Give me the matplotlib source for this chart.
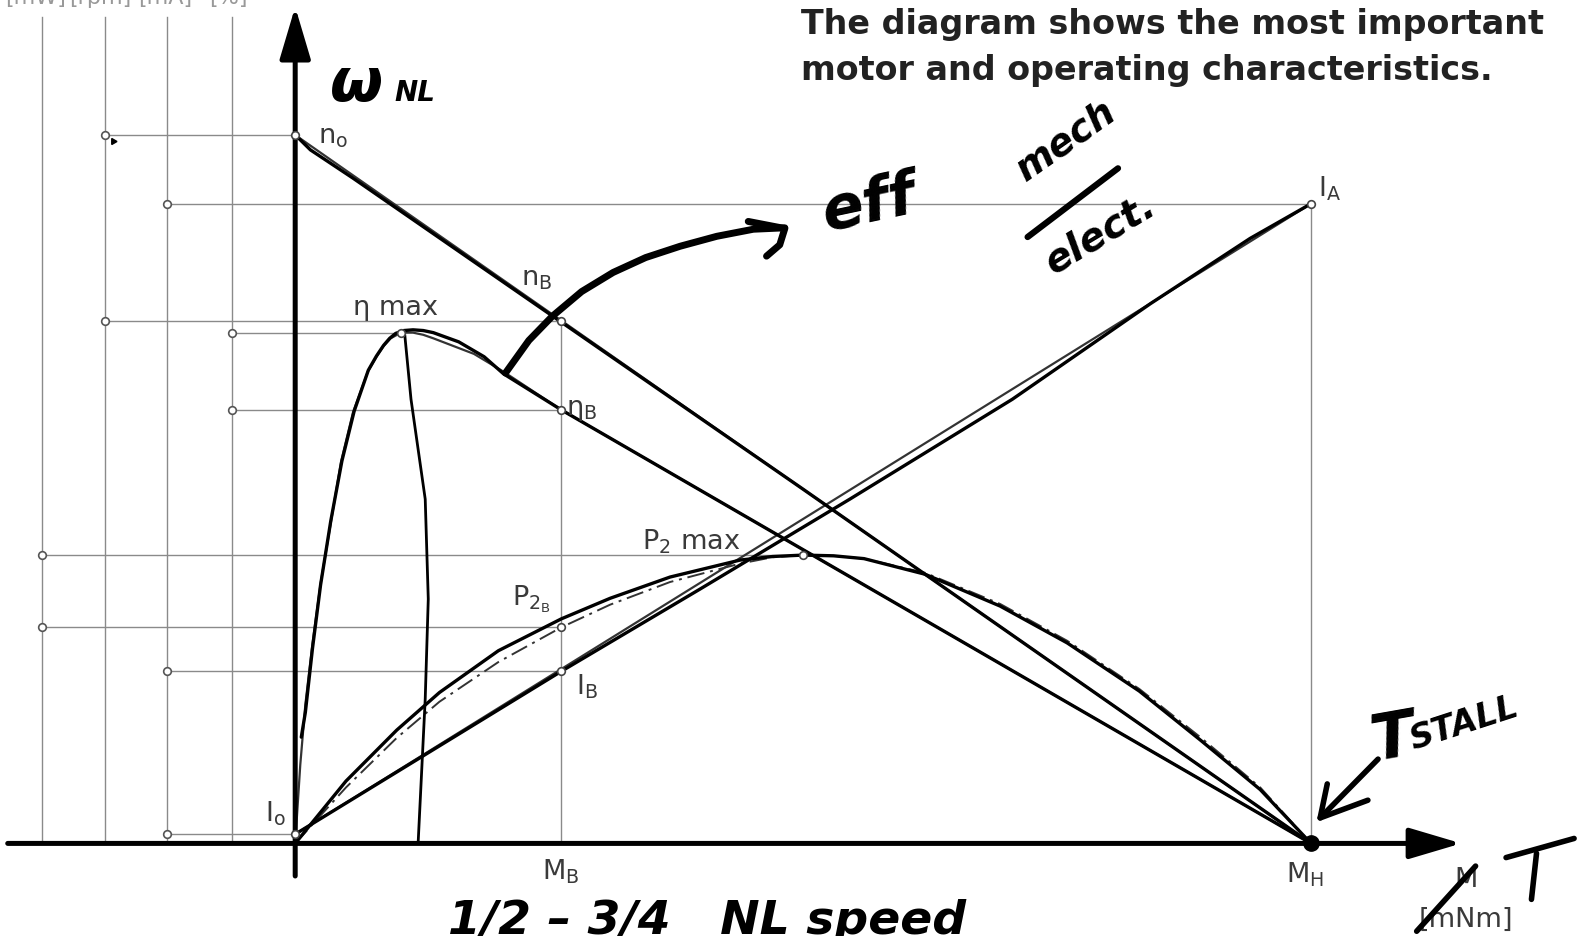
import numpy as np
import matplotlib.pyplot as plt

# motor characteristic diagram
# torque axis scaled so stall torque M_H = 100, curves scaled so that n_o = 100
M_B = 26.2
M_H = 100.0

speed_M = [0.0, M_H]
speed_n = [100.0, 0.0]

current_M = [0.0, M_H]
current_I = [1.3, 90.3]

eff_M = [0.0, 0.5, 1.0, 1.7, 2.5, 3.5, 4.5, 5.7, 7.15, 8.0, 8.7, 9.4, 10.4, 11.6, 12.6, 13.6, 17.6, 20.5, 26.2, 100.0]
eff_eta = [0.0, 11.1, 19.6, 28.2, 36.7, 45.2, 53.8, 60.9, 66.6, 68.7, 70.2, 71.3, 72.1, 72.1, 71.8, 71.3, 69.1, 66.6, 61.2, 0.0]

power_M = [0, 5, 10, 14.2, 20, 26.2, 31, 36.9, 43.8, 47, 50, 53, 56, 62, 69.4, 76, 83.1, 89.1, 95, 100]
power_P = [0, 7.9, 14.9, 20.0, 25.6, 30.5, 33.7, 36.9, 39.5, 40.4, 40.7, 40.6, 40.2, 38.2, 33.8, 28.6, 21.8, 15.0, 7.9, 0]

# pen traces drawn over the printed curves
pen_speed_M = [0.3, 1.5, 5.7, 50.0, 100.0]
pen_speed_n = [99.6, 97.9, 93.9, 50.0, 0.0]
pen_current_M = [0.0, 26.2, 39.85, 54.6, 70.6, 84.2, 94.0, 100.0]
pen_current_I = [1.3, 24.3, 35.9, 48.6, 62.7, 76.2, 85.4, 90.3]
pen_eff_M = [0.6, 1.0, 1.7, 2.5, 3.5, 4.6, 5.8, 7.2, 8.0, 8.7, 9.3, 9.9, 10.7, 11.6, 12.6, 13.6, 16.1, 18.6, 20.5, 26.2, 100.0]
pen_eff = [15.0, 18.5, 27.5, 36.5, 45.5, 54.0, 61.0, 66.8, 68.8, 70.3, 71.3, 72.0, 72.4, 72.5, 72.4, 72.1, 70.8, 68.7, 66.3, 61.2, 0.0]
pen_power_M = [0, 5, 10, 14.2, 20, 26.2, 31, 36.9, 43.8, 47, 50, 53, 56, 62, 69.4, 76, 83.1, 89.1, 95, 100]
pen_power_P = [0, 8.8, 16.0, 21.3, 27.2, 31.7, 34.6, 37.6, 40.0, 40.5, 40.7, 40.6, 40.2, 38.0, 33.5, 28.3, 21.5, 14.6, 7.6, 0]
pen_drop_M = [10.8, 11.4, 12.8, 13.1, 12.8, 12.1]
pen_drop_y = [71.6, 62.7, 48.6, 34.5, 20.4, 0.0]
pen_arrow_M = [20.7, 23.0, 25.3, 28.2, 31.3, 34.5, 37.9, 41.5, 45.1, 48.2]
pen_arrow_y = [66.4, 71.0, 74.4, 77.9, 80.6, 82.7, 84.3, 85.7, 86.7, 86.9]

# key operating points: (label column, torque, value)
points = {
    'n0':   ('n', 0.0, 100.0),
    'IA':   ('I', M_H, 90.3),
    'nB':   ('n', M_B, 73.8),
    'etam': ('eta', 10.4, 72.1),
    'etaB': ('eta', M_B, 61.2),
    'P2m':  ('P', 50.0, 40.7),
    'P2B':  ('P', M_B, 30.5),
    'IB':   ('I', M_B, 24.4),
    'I0':   ('I', 0.0, 1.3),
}
scale_cols = {'P': -24.93, 'n': -18.75, 'I': -12.62, 'eta': -6.22}
unit_labels = ['[mW]', '[rpm]', '[mA]', '[%]']

GRID = '#8a8a8a'
INK = '#3a3a3a'

fig = plt.figure(figsize=(15.8, 9.37), dpi=100)
ax = fig.add_axes([0, 0, 1, 1])
ax.set_xlim(-29.06, 126.48)
ax.set_ylim(-13.07, 119.2)
ax.axis('off')

# value scales on the left
for x in scale_cols.values():
    ax.plot([x, x], [0, 116.7], color=GRID, lw=1.0, zorder=1)
for x, u in zip([-25.6, -19.2, -12.8, -6.6], unit_labels):
    ax.text(x, 118.6, u, ha='center', va='baseline', fontsize=16, color='#999999')

# projection lines from each point onto its scale
for key, (col, m, v) in points.items():
    x0 = scale_cols[col]
    ax.plot([x0, m], [v, v], color=GRID, lw=1.0, zorder=1)
    ax.plot([x0], [v], 'o', ms=5.5, mfc='white', mec='#555555', mew=1.2, zorder=6)
    ax.plot([m], [v], 'o', ms=5.5, mfc='white', mec='#444444', mew=1.2, zorder=6)
ax.plot([M_B, M_B], [0, points['nB'][2]], color=GRID, lw=1.0, zorder=1)
ax.plot([M_H, M_H], [0, points['IA'][2]], color=GRID, lw=1.0, zorder=1)

# axes with arrow heads
arrow = dict(arrowstyle='-|>,head_length=3.2,head_width=0.95', lw=3.6, color='black',
             mutation_scale=10, shrinkA=0, shrinkB=0)
ax.annotate('', xy=(0, 118.1), xytext=(0, -4.6), arrowprops=arrow, zorder=5)
ax.annotate('', xy=(114.8, 0), xytext=(-28.3, 0), arrowprops=arrow, zorder=5)

# printed characteristic curves
ax.plot(speed_M, speed_n, color='#333333', lw=1.6, zorder=3)
ax.plot(current_M, current_I, color='#333333', lw=1.6, zorder=3)
ax.plot(eff_M, eff_eta, color='#333333', lw=1.6, zorder=3)
ax.plot(power_M, power_P, color='#333333', lw=1.4, ls=(0, (9, 3, 1.5, 3)), zorder=3)

# pen traces
pen = dict(color='black', lw=2.4, solid_capstyle='round', solid_joinstyle='round', zorder=4)
ax.plot(pen_speed_M, pen_speed_n, **pen)
ax.plot(pen_current_M, pen_current_I, **pen)
ax.plot(pen_eff_M, pen_eff, **pen)
ax.plot(pen_power_M, pen_power_P, **pen)
ax.plot(pen_drop_M, pen_drop_y, color='black', lw=2.0, zorder=4)
ax.plot(pen_arrow_M, pen_arrow_y, color='black', lw=5.0, solid_capstyle='round', zorder=4)
ax.plot([44.6, 48.2, 47.7, 46.4], [87.8, 86.8, 84.5, 82.9], color='black', lw=5.0,
        solid_capstyle='round', solid_joinstyle='round', zorder=4)
ax.plot([M_H], [0], 'o', ms=11, color='black', zorder=7)
ax.plot([-17.9], [99.2], marker=(3, 0, 30), ms=5, color='black', zorder=7)

# printed labels
lab = dict(fontsize=19.5, color=INK, va='baseline', ha='left', zorder=8)
sub = r'$_\mathregular{%s}$'
ax.text(2.2, 99.0, 'n' + sub % 'o', **lab)
ax.text(100.7, 91.4, 'I' + sub % 'A', **lab)
ax.text(22.2, 78.9, 'n' + sub % 'B', **lab)
ax.text(5.7, 74.7, 'η max', **lab)
ax.text(26.7, 60.6, 'η' + sub % 'B', **lab)
ax.text(34.1, 41.7, 'P' + sub % '2' + ' max', **lab)
ax.text(21.3, 33.8, 'P' + r'$_{\mathregular{2}_\mathregular{B}}$', **lab)
ax.text(27.6, 21.1, 'I' + sub % 'B', **lab)
ax.text(-2.96, 3.3, 'I' + sub % 'o', **lab)
ax.text(24.3, -5.0, 'M' + sub % 'B', **lab)
ax.text(97.5, -5.4, 'M' + sub % 'H', **lab)
ax.text(114.1, -6.0, 'M', **lab)
ax.text(110.6, -11.7, '[mNm]', **lab)

ax.text(49.8, 114.4, 'The diagram shows the most important', fontsize=24, fontweight='bold',
        color='#222222', va='baseline', ha='left')
ax.text(49.8, 107.9, 'motor and operating characteristics.', fontsize=24, fontweight='bold',
        color='#222222', va='baseline', ha='left')

# handwritten notes
hand = dict(color='black', fontweight='bold', fontstyle='italic', va='baseline', ha='left',
            rotation_mode='anchor', zorder=9)
ax.text(3.4, 104.9, 'ω', fontsize=44, **hand)
ax.text(9.8, 104.9, 'NL', fontsize=20, **hand)
ax.text(52.3, 86.6, 'eff', fontsize=44, rotation=12, **hand)
ax.text(71.9, 93.6, 'mech', fontsize=27, rotation=35, **hand)
ax.plot([72.1, 81.0], [85.6, 95.3], color='black', lw=4.5, solid_capstyle='round', zorder=9)
ax.text(74.6, 80.4, 'elect.', fontsize=28, rotation=31, **hand)
ax.text(106.3, 11.9, 'T', fontsize=46, rotation=10, **hand)
ax.text(110.1, 13.3, 'STALL', fontsize=24, rotation=18, **hand)
ax.plot([106.6, 100.9], [11.9, 3.6], color='black', lw=4.0, solid_capstyle='round', zorder=9)
ax.plot([101.6, 100.9, 105.6], [8.4, 3.6, 6.1], color='black', lw=4.0,
        solid_capstyle='round', solid_joinstyle='round', zorder=9)
ax.plot([110.4, 116.2], [-12.4, -3.2], color='black', lw=4.0, solid_capstyle='round', zorder=9)
ax.plot([119.2, 125.9], [-2.0, 0.7], color='black', lw=4.0, solid_capstyle='round', zorder=9)
ax.plot([122.2, 121.7], [-1.4, -7.9], color='black', lw=4.0, solid_capstyle='round', zorder=9)
ax.text(15.0, -12.7, '1/2 – 3/4   NL speed', fontsize=34, **hand)

fig.savefig('out.png', dpi=100)
